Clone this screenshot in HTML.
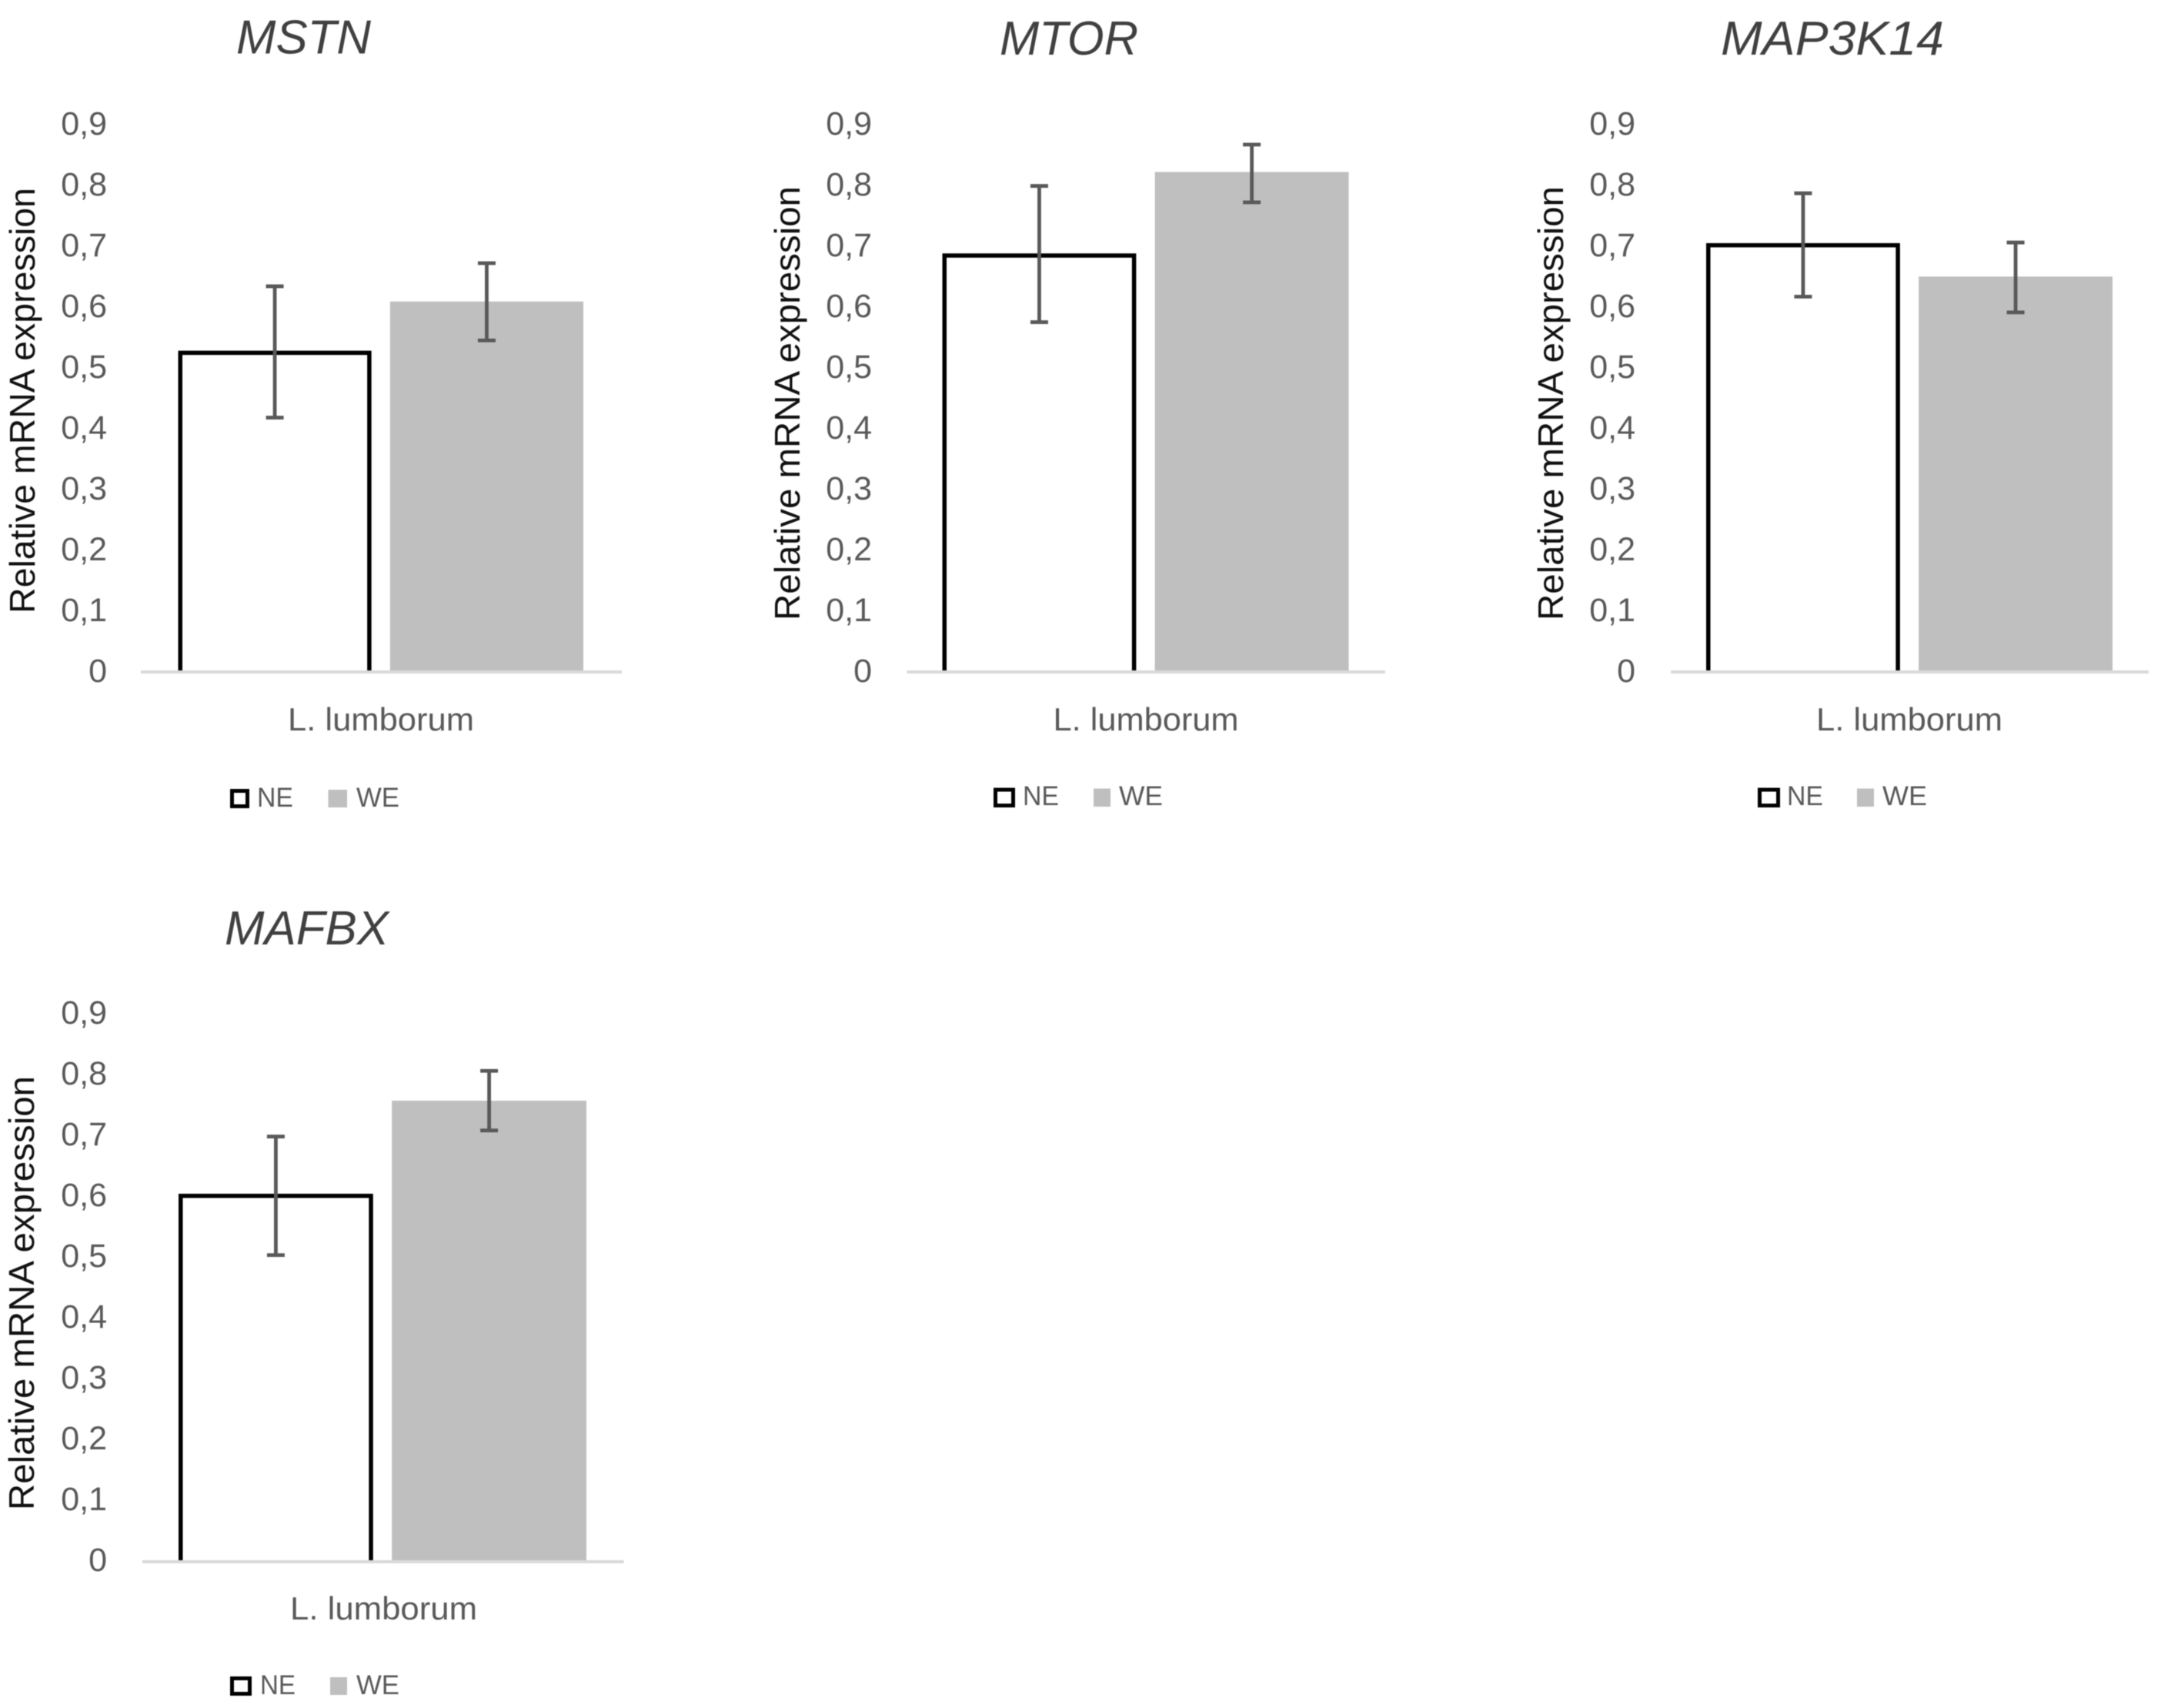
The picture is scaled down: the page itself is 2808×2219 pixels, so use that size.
<!DOCTYPE html>
<html lang="en">
<head>
<meta charset="utf-8">
<title>Relative mRNA expression panels</title>
<style>
html,body{margin:0;padding:0;background:#fff;width:2808px;height:2219px;overflow:hidden}
svg{display:block;filter:blur(0.6px)}
text{font-family:"Liberation Sans",sans-serif}
</style>
</head>
<body>
<svg id="figure" xmlns="http://www.w3.org/2000/svg" width="2808" height="2219" viewBox="0 0 2808 2219"></svg>
<script>
// Data
const genes = ["MSTN", "MTOR", "MAP3K14", "MAFBX"];
const categoryLabel = "L. lumborum";
const seriesNames = ["NE", "WE"];
const neValues = [0.527, 0.687, 0.704, 0.604];
const weValues = [0.608, 0.821, 0.649, 0.757];
const neErrLow = [0.417, 0.574, 0.616, 0.503];
const neErrHigh = [0.633, 0.798, 0.786, 0.698];
const weErrLow = [0.544, 0.771, 0.590, 0.708];
const weErrHigh = [0.671, 0.866, 0.705, 0.806];
const tickValues = [0, 0.1, 0.2, 0.3, 0.4, 0.5, 0.6, 0.7, 0.8, 0.9];
const tickLabels = ["0", "0,1", "0,2", "0,3", "0,4", "0,5", "0,6", "0,7", "0,8", "0,9"];
const yAxisTitle = "Relative mRNA expression";

// Panel layout
const layouts = [
  {axis:[183,808], band:[231.5,758], base:872, pxPerUnit:790, tickRight:139, tickDy:14,
   title:[307,69.5,175], yTitle:[45,797,553], cat:[374,949,242],
   leg:{sw1:299,sw1r:324,swT:1025,swB:1050,t1:334,t1w:47,sw2:426.5,sw2r:451,t2:463,t2w:56,tb:1048}},
  {axis:[1178.5,1800], band:[1224.5,1752.5], base:872, pxPerUnit:790, tickRight:1133, tickDy:14,
   title:[1299,71,180], yTitle:[1039,806,564], cat:[1368.5,949,241],
   leg:{sw1:1291,sw1r:1319,swT:1023.5,swB:1049,t1:1329,t1w:47,sw2:1421,sw2r:1443,t2:1454,t2w:57,tb:1046}},
  {axis:[2171,2792], band:[2217,2745], base:872, pxPerUnit:790, tickRight:2125, tickDy:14,
   title:[2236,71,290], yTitle:[2031,806,564], cat:[2360,949,242],
   leg:{sw1:2284,sw1r:2313,swT:1023.5,swB:1049,t1:2322,t1w:47,sw2:2413,sw2r:2435,t2:2446,t2w:58,tb:1046}},
  {axis:[185,810.5], band:[232,762], base:2028, pxPerUnit:790, tickRight:139, tickDy:13,
   title:[292,1227,213], yTitle:[44,1962,564], cat:[377,2104,243],
   leg:{sw1:299,sw1r:327,swT:2178,swB:2203,t1:338,t1w:46,sw2:429,sw2r:451,t2:463,t2w:56,tb:2201}}
];

const svg = document.getElementById('figure');
const NS = 'http://www.w3.org/2000/svg';

function mk(parent, tag, attrs, txt) {
  const el = document.createElementNS(NS, tag);
  for (const k in attrs) el.setAttribute(k, attrs[k]);
  if (txt !== undefined) el.textContent = txt;
  parent.appendChild(el);
  return el;
}
function yScale(p, v) { return p.base - v * p.pxPerUnit; }
function barWidth(p) { return (p.band[1] - p.band[0]) * 0.477; }
function barLeft(p, s) {
  const w = barWidth(p);
  return s === 0 ? p.band[0] : p.band[1] - w;
}

genes.forEach(function (gene, i) {
  const p = layouts[i];
  const g = mk(svg, 'g', {});
  
  

  // Title
  const title = mk(g, 'text', {x:p.title[0], y:p.title[1], 'font-size':62, 'font-style':'italic', fill:'#404040', textLength:p.title[2], lengthAdjust:'spacingAndGlyphs'}, gene);
  
  

  // Y axis title
  const yt = mk(g, 'text', {x:p.yTitle[0], y:p.yTitle[1], transform:'rotate(-90 ' + p.yTitle[0] + ' ' + p.yTitle[1] + ')', 'font-size':46, fill:'#111', textLength:p.yTitle[2], lengthAdjust:'spacingAndGlyphs'}, yAxisTitle);
  
  

  // Tick labels
  tickValues.forEach(function (v, t) {
    const tick = mk(g, 'text', {x:p.tickRight, y:yScale(p, v) + p.tickDy, 'font-size':43, 'text-anchor':'end', fill:'#595959'}, tickLabels[t]);
    
    
  });

  // NE bar (outlined)
  const neX = barLeft(p, 0), bw = barWidth(p), neY = yScale(p, neValues[i]);
  const neBar = mk(g, 'path', {d:'M' + (neX + 2.75) + ' ' + p.base + 'V' + (neY + 2.75) + 'H' + (neX + bw - 2.75) + 'V' + p.base, fill:'#fff', stroke:'#000', 'stroke-width':5.5});
  
  

  // WE bar (filled)
  const weX = barLeft(p, 1), weY = yScale(p, weValues[i]);
  const weBar = mk(g, 'rect', {x:weX, y:weY, width:bw, height:p.base - weY, fill:'#bfbfbf'});
  
  

  // Error bars
  [[neX, neErrLow[i], neErrHigh[i], 'ne'], [weX, weErrLow[i], weErrHigh[i], 'we']].forEach(function (e) {
    const cx = e[0] + bw / 2, y0 = yScale(p, e[1]), y1 = yScale(p, e[2]);
    const err = mk(g, 'path', {d:'M' + cx + ' ' + y0 + 'V' + y1 + 'M' + (cx - 11.5) + ' ' + y0 + 'H' + (cx + 11.5) + 'M' + (cx - 11.5) + ' ' + y1 + 'H' + (cx + 11.5), fill:'none', stroke:'#595959', 'stroke-width':4.8});
    
    
  });

  // X axis line
  const axis = mk(g, 'rect', {x:p.axis[0], y:p.base - 1, width:p.axis[1] - p.axis[0], height:4, fill:'#d9d9d9'});
  
  

  // Category label
  const cat = mk(g, 'text', {x:p.cat[0], y:p.cat[1], 'font-size':42, fill:'#595959', textLength:p.cat[2], lengthAdjust:'spacingAndGlyphs'}, categoryLabel);
  
  

  // Legend
  const L = p.leg;
  const sw1 = mk(g, 'rect', {x:L.sw1 + 2.5, y:L.swT + 2.5, width:L.sw1r - L.sw1 - 5, height:L.swB - L.swT - 5, fill:'#fff', stroke:'#000', 'stroke-width':5});
  
  
  const t1 = mk(g, 'text', {x:L.t1, y:L.tb, 'font-size':35, fill:'#595959', textLength:L.t1w, lengthAdjust:'spacingAndGlyphs'}, seriesNames[0]);
  
  
  const sw2 = mk(g, 'rect', {x:L.sw2, y:L.swT + 1, width:L.sw2r - L.sw2, height:L.swB - L.swT - 2, fill:'#bfbfbf'});
  
  
  const t2 = mk(g, 'text', {x:L.t2, y:L.tb, 'font-size':35, fill:'#595959', textLength:L.t2w, lengthAdjust:'spacingAndGlyphs'}, seriesNames[1]);
  
  
});
</script>
</body>
</html>
